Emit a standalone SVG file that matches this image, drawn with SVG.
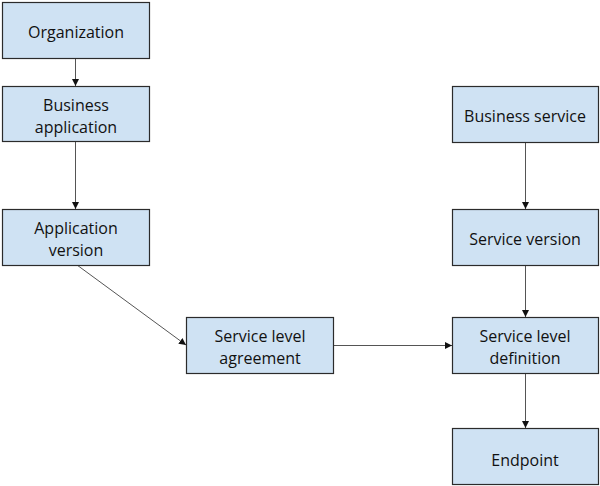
<svg xmlns="http://www.w3.org/2000/svg" width="600" height="486" viewBox="0 0 600 486">
<style>
.box{fill:#cfe2f3;stroke:#2b2b2b;stroke-width:1.2}
.t{font-family:"Open Sans","Liberation Sans",sans-serif;font-size:16px;fill:#111;text-anchor:middle}
.c{stroke:#555;stroke-width:1;fill:none;marker-end:url(#a)}
</style>
<defs>
<marker id="a" viewBox="0 0 10 10" refX="10" refY="5" markerWidth="7" markerHeight="7" markerUnits="userSpaceOnUse" orient="auto">
<path d="M0,0 L10,5 L0,10 z" fill="#111"/>
</marker>
</defs>
<g id="connectors">
<line class="c" x1="75.5" y1="58" x2="75.5" y2="86"/>
<line class="c" x1="75.5" y1="141" x2="75.5" y2="209"/>
<line class="c" x1="77" y1="265" x2="186" y2="345"/>
<line class="c" x1="334" y1="345.5" x2="452" y2="345.5"/>
<line class="c" x1="525.5" y1="142" x2="525.5" y2="209"/>
<line class="c" x1="525.5" y1="265" x2="525.5" y2="317"/>
<line class="c" x1="525.5" y1="373" x2="525.5" y2="428"/>
</g>
<g id="organization"><rect class="box" x="2.5" y="2.5" width="147" height="56"/><text class="t" x="76" y="38">Organization</text></g>
<g id="business-application"><rect class="box" x="2.5" y="86.5" width="147" height="55"/><text class="t" x="76" y="111">Business</text><text class="t" x="76" y="133">application</text></g>
<g id="application-version"><rect class="box" x="2.5" y="209.5" width="147" height="56"/><text class="t" x="76" y="234">Application</text><text class="t" x="76" y="256">version</text></g>
<g id="service-level-agreement"><rect class="box" x="186.5" y="317.5" width="147" height="56"/><text class="t" x="260" y="342">Service level</text><text class="t" x="260" y="364">agreement</text></g>
<g id="business-service"><rect class="box" x="452.5" y="86.5" width="146" height="56"/><text class="t" x="525" y="122">Business service</text></g>
<g id="service-version"><rect class="box" x="452.5" y="209.5" width="146" height="56"/><text class="t" x="525" y="245">Service version</text></g>
<g id="service-level-definition"><rect class="box" x="452.5" y="317.5" width="146" height="56"/><text class="t" x="525" y="342">Service level</text><text class="t" x="525" y="364">definition</text></g>
<g id="endpoint"><rect class="box" x="452.5" y="428.5" width="146" height="56"/><text class="t" x="525" y="466">Endpoint</text></g>
</svg>
